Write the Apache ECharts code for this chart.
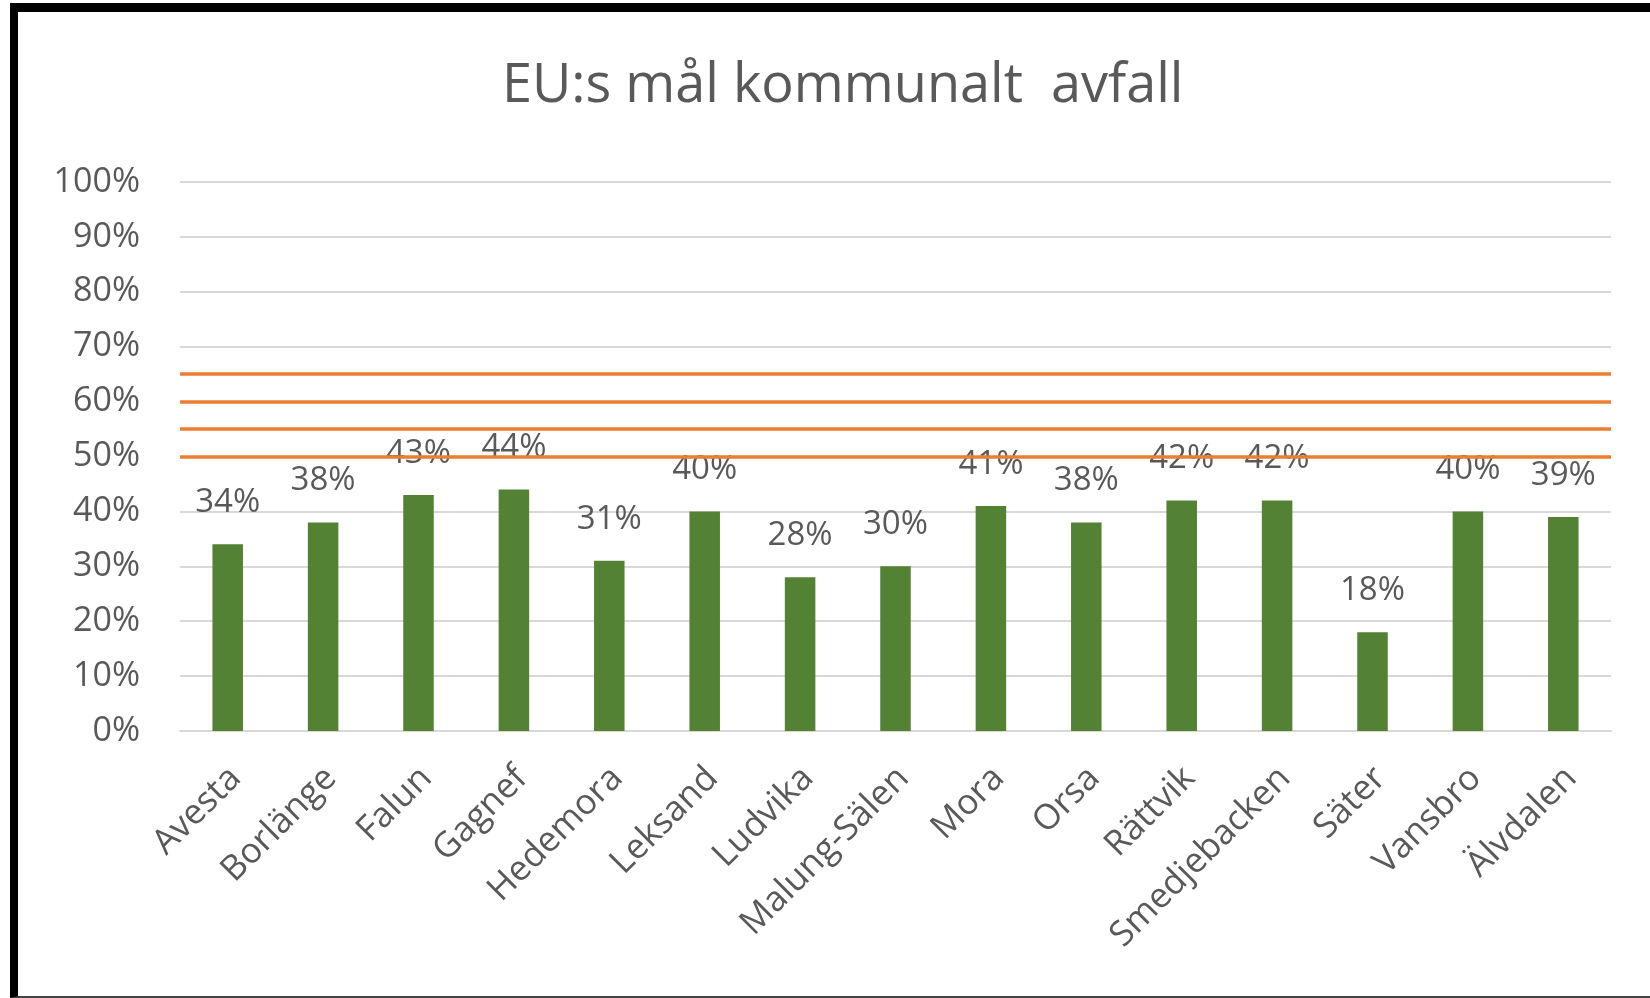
<!DOCTYPE html>
<html>
<head>
<meta charset="utf-8">
<script src="https://cdn.jsdelivr.net/npm/echarts@6/dist/echarts.min.js"></script>
<style>
  html, body { margin: 0; padding: 0; background: #fff; }
  .frame {
    position: absolute;
    left: 10px; top: 3px; right: 0; bottom: 0;
    border-left: 8px solid #000;
    border-top: 9px solid #000;
    border-bottom: 2px solid #444;
    box-sizing: border-box;
  }
  #chart { position: absolute; left: 0; top: 0; width: 1650px; height: 998px; }
</style>
</head>
<body>
<div class="frame"></div>
<div id="chart"></div>
<script>
// kommuner
const categories = ['Avesta', 'Borlänge', 'Falun', 'Gagnef', 'Hedemora', 'Leksand', 'Ludvika',
  'Malung-Sälen', 'Mora', 'Orsa', 'Rättvik', 'Smedjebacken', 'Säter', 'Vansbro', 'Älvdalen']

// andel materialåtervinning (%)
const values = [34, 38, 43, 44, 31, 40, 28, 30, 41, 38, 42, 42, 18, 40, 39]

// EU:s mål (%)
const targets = [50, 55, 60, 65]

const textColor = '#595959'
const font = 'Open Sans'

let myChart = echarts.init(document.getElementById('chart'))

myChart.setOption({
  animation: false,
  textStyle: { fontFamily: font },
  title: {
    text: 'EU:s mål kommunalt  avfall',
    left: 497,
    top: 55,
    textStyle: { color: textColor, fontSize: 54, fontWeight: 'normal', fontFamily: font },
  },
  grid: { left: 180, right: 39, top: 182, bottom: 267 },
  xAxis: {
    type: 'category',
    data: categories,
    axisLine: { lineStyle: { color: '#d9d9d9', width: 2 } },
    axisTick: { show: false },
    axisLabel: {
      rotate: 45,
      interval: 0,
      margin: 34,
      verticalAlign: 'top',
      lineHeight: 22,
      color: textColor,
      fontSize: 35,
      fontFamily: font,
    },
  },
  yAxis: {
    type: 'value',
    min: 0,
    max: 100,
    interval: 10,
    axisLine: { show: false },
    axisTick: { show: false },
    splitLine: { lineStyle: { color: '#d9d9d9', width: 2 } },
    axisLabel: {
      formatter: '{value}%',
      margin: 40,
      color: textColor,
      fontSize: 34,
      fontFamily: font,
    },
  },
  series: [
    {
      type: 'bar',
      data: values,
      barWidth: '32%',
      itemStyle: { color: '#548235' },
      label: {
        show: true,
        position: 'top',
        distance: 25,
        formatter: '{c}%',
        color: textColor,
        fontSize: 33,
        fontFamily: font,
      },
      markLine: {
        silent: true,
        symbol: 'none',
        label: { show: false },
        lineStyle: { color: '#ED7D31', width: 3.5, type: 'solid' },
        data: targets.map(v => ({ yAxis: v })),
      },
    },
  ],
})
</script>
</body>
</html>
